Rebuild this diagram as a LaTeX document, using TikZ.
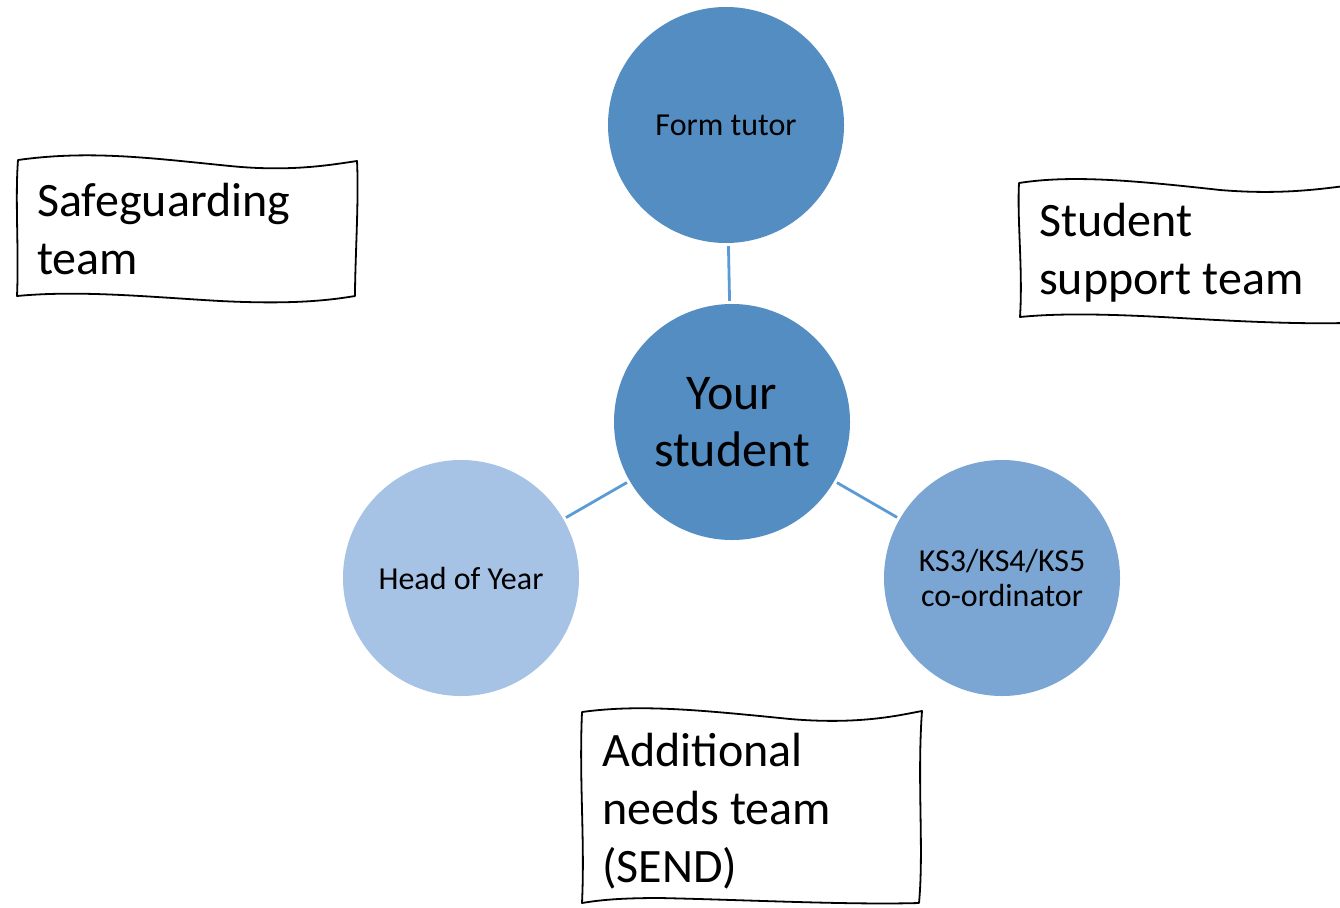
\documentclass[tikz,border=0pt]{standalone}
\usepackage{fontspec}
\setmainfont{Carlito}
\definecolor{darkblue}{HTML}{538DC2}
\definecolor{midblue}{HTML}{7BA6D4}
\definecolor{lightblue}{HTML}{A6C2E4}
\definecolor{linkblue}{HTML}{5B9BD5}
\begin{document}
\begin{tikzpicture}[x=1pt,y=-1pt,
  bubble/.style={circle,minimum size=236pt,inner sep=0pt,align=center,text=black},
  small/.style={font=\fontsize{32}{35}\selectfont},
  big/.style={font=\fontsize{50}{57}\selectfont},
  link/.style={draw=linkblue,line width=2.8pt,shorten <=3pt,shorten >=3pt},
  wavy/.style={draw=black,line width=1.8pt,fill=white,line join=round},
  boxtext/.style={anchor=base west,align=left,inner sep=0pt,font=\fontsize{48}{58}\selectfont}]
\clip (0,0) rectangle (1340,907);
\fill[white] (0,0) rectangle (1340,907);

% circles
\node[bubble,fill=darkblue,small] (tutor) at (726,125) {Form tutor};
\node[bubble,fill=darkblue,big] (student) at (732,422) {Your\\student};
\node[bubble,fill=lightblue,small] (hoy) at (461,578) {Head of Year};
\node[bubble,fill=midblue,small] (ks) at (1002,578) {KS3/KS4/KS5\\co-ordinator};

% connectors
\draw[link] (tutor) -- (student);
\draw[link] (hoy) -- (student);
\draw[link] (ks) -- (student);

% hand-drawn boxes
\draw[wavy] (18,160) .. controls (90,150) and (150,158) .. (230,166)
  .. controls (290,172) and (330,165) .. (357,161)
  .. controls (359,200) and (355,260) .. (355,296)
  .. controls (320,302) and (280,304) .. (220,301)
  .. controls (150,297) and (80,290) .. (17,296)
  .. controls (19,250) and (15,200) .. (18,160) -- cycle;
\node[boxtext] (safe) at (37,274) {Safeguarding\\team};

\draw[wavy] (1019,183) .. controls (1070,175) and (1130,180) .. (1220,190)
  .. controls (1280,195) and (1320,189) .. (1345,186)
  -- (1345,323)
  .. controls (1300,324) and (1250,322) .. (1180,318)
  .. controls (1110,314) and (1060,313) .. (1020,317)
  .. controls (1023,270) and (1017,220) .. (1019,183) -- cycle;
\node[boxtext] (support) at (1039,294) {Student\\support team};

\draw[wavy] (582,712) .. controls (640,704) and (700,710) .. (790,719)
  .. controls (860,725) and (900,715) .. (922,711)
  .. controls (917,780) and (924,850) .. (919,903)
  .. controls (850,905) and (750,900) .. (660,898)
  .. controls (620,898) and (600,900) .. (582,903)
  .. controls (585,840) and (579,780) .. (582,712) -- cycle;
\node[boxtext] (send) at (602,882) {Additional\\needs team\\(SEND)};
\end{tikzpicture}
\end{document}
